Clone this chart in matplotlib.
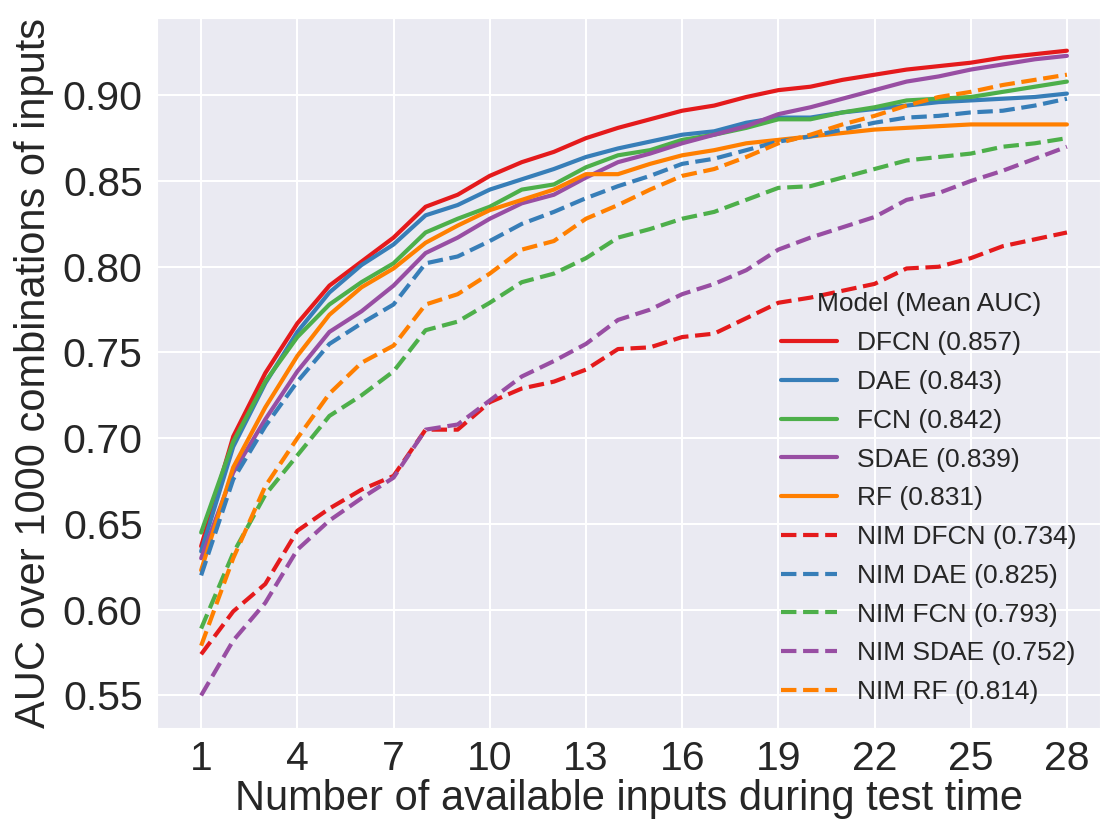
import matplotlib
matplotlib.use("Agg")
import matplotlib.pyplot as plt
import seaborn as sns

n_inputs = list(range(1, 29))

dfcn = [0.637, 0.701, 0.738, 0.767, 0.789, 0.803, 0.817, 0.835, 0.842, 0.853, 0.861, 0.867, 0.875, 0.881,
        0.886, 0.891, 0.894, 0.899, 0.903, 0.905, 0.909, 0.912, 0.915, 0.917, 0.919, 0.922, 0.924, 0.926]
dae = [0.634, 0.695, 0.732, 0.762, 0.785, 0.801, 0.813, 0.830, 0.836, 0.845, 0.851, 0.857, 0.864, 0.869,
       0.873, 0.877, 0.879, 0.884, 0.887, 0.887, 0.890, 0.892, 0.894, 0.896, 0.897, 0.898, 0.899, 0.901]
fcn = [0.645, 0.698, 0.733, 0.759, 0.778, 0.791, 0.802, 0.820, 0.828, 0.835, 0.845, 0.848, 0.858, 0.865,
       0.868, 0.874, 0.877, 0.881, 0.886, 0.886, 0.890, 0.893, 0.897, 0.898, 0.899, 0.902, 0.905, 0.908]
sdae = [0.630, 0.680, 0.711, 0.739, 0.762, 0.774, 0.789, 0.808, 0.817, 0.828, 0.837, 0.842, 0.852, 0.861,
        0.866, 0.872, 0.877, 0.882, 0.889, 0.893, 0.898, 0.903, 0.908, 0.911, 0.915, 0.918, 0.921, 0.923]
rf = [0.623, 0.683, 0.718, 0.748, 0.772, 0.788, 0.799, 0.814, 0.824, 0.833, 0.839, 0.845, 0.854, 0.854,
      0.860, 0.865, 0.868, 0.872, 0.874, 0.876, 0.878, 0.880, 0.881, 0.882, 0.883, 0.883, 0.883, 0.883]
nim_dfcn = [0.574, 0.599, 0.615, 0.646, 0.659, 0.670, 0.678, 0.705, 0.705, 0.721, 0.729, 0.733, 0.740, 0.752,
            0.753, 0.759, 0.761, 0.770, 0.779, 0.782, 0.786, 0.790, 0.799, 0.800, 0.805, 0.812, 0.816, 0.820]
nim_dae = [0.620, 0.676, 0.707, 0.733, 0.755, 0.767, 0.778, 0.802, 0.806, 0.815, 0.825, 0.832, 0.840, 0.847,
           0.853, 0.860, 0.863, 0.868, 0.873, 0.876, 0.880, 0.884, 0.887, 0.888, 0.890, 0.891, 0.894, 0.898]
nim_fcn = [0.589, 0.633, 0.667, 0.690, 0.713, 0.725, 0.739, 0.763, 0.768, 0.779, 0.791, 0.796, 0.805, 0.817,
           0.822, 0.828, 0.832, 0.839, 0.846, 0.847, 0.852, 0.857, 0.862, 0.864, 0.866, 0.870, 0.872, 0.875]
nim_sdae = [0.550, 0.582, 0.604, 0.635, 0.652, 0.665, 0.677, 0.705, 0.708, 0.722, 0.736, 0.745, 0.755, 0.769,
            0.775, 0.784, 0.790, 0.798, 0.810, 0.817, 0.823, 0.829, 0.839, 0.843, 0.850, 0.856, 0.863, 0.870]
nim_rf = [0.579, 0.630, 0.672, 0.700, 0.726, 0.744, 0.754, 0.778, 0.784, 0.796, 0.810, 0.815, 0.828, 0.836,
          0.845, 0.853, 0.857, 0.864, 0.872, 0.877, 0.883, 0.888, 0.894, 0.899, 0.902, 0.906, 0.909, 0.912]

labels = ["DFCN (0.857)", "DAE (0.843)", "FCN (0.842)", "SDAE (0.839)", "RF (0.831)",
          "NIM DFCN (0.734)", "NIM DAE (0.825)", "NIM FCN (0.793)", "NIM SDAE (0.752)", "NIM RF (0.814)"]
series = [dfcn, dae, fcn, sdae, rf, nim_dfcn, nim_dae, nim_fcn, nim_sdae, nim_rf]
colors = ["#e41a1c", "#377eb8", "#4daf4a", "#984ea3", "#ff7f00"] * 2
styles = ["-"] * 5 + ["--"] * 5
x_ticks = [1, 4, 7, 10, 13, 16, 19, 22, 25, 28]
y_ticks = [0.55, 0.60, 0.65, 0.70, 0.75, 0.80, 0.85, 0.90]

sns.set_style("darkgrid")
plt.rcParams['font.family'] = ['Liberation Sans', 'DejaVu Sans']
plt.rcParams['grid.linewidth'] = 1.5

fig = plt.figure(figsize=(11.15, 8.24), dpi=100)
ax = fig.add_axes([0.141, 0.1165, 0.8455, 0.8615])

for ys, lab, c, ls in zip(series, labels, colors, styles):
    ax.plot(n_inputs, ys, color=c, linestyle=ls, linewidth=3, label=lab)

ax.set_xticks(x_ticks)
ax.set_xlim(-0.37, 29.03)
ax.set_ylim(0.531, 0.945)
ax.set_yticks(y_ticks)
ax.set_yticklabels([f"{v:.2f}" for v in y_ticks])
ax.tick_params(axis='y', labelsize=29.5, colors='0.15', pad=7)
ax.tick_params(axis='x', labelsize=29.5, colors='0.15', pad=5)
ax.set_xlabel("Number of available inputs during test time", fontsize=30, color='0.15', labelpad=1)
ax.set_ylabel("AUC over 1000 combinations of inputs", fontsize=30, color='0.15', labelpad=6)

leg = ax.legend(title="Model (Mean AUC)", fontsize=19, title_fontsize=19, frameon=False,
                loc='lower right', bbox_to_anchor=(1.0, 0.0), labelspacing=0.56,
                handlelength=2.1, handletextpad=0.75, borderaxespad=0.5)
for t in leg.get_texts():
    t.set_color('0.15')
leg.get_title().set_color('0.15')

fig.savefig("out.png", dpi=100)
